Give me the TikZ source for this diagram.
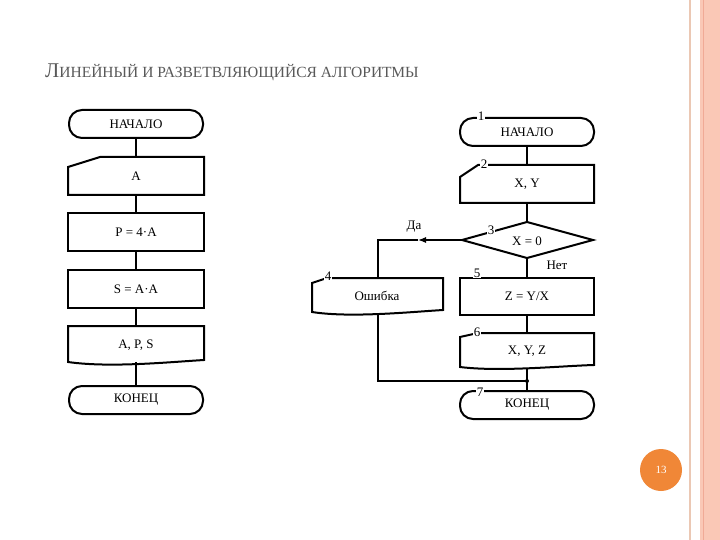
\documentclass[tikz,border=0pt]{standalone}
\usepackage{fontspec}
\setmainfont{Liberation Serif}
\usetikzlibrary{arrows.meta}
\begin{document}
\begin{tikzpicture}[x=1pt,y=-1pt,
  every node/.style={font=\fontsize{13}{15}\selectfont},
  blk/.style={minimum width=136pt,minimum height=38pt,inner sep=0pt},
  proc/.style={blk,draw,line width=2pt},
  term/.style={draw,line width=2pt,rounded corners=13pt,minimum width=134pt,minimum height=28pt,inner sep=0pt},
  num/.style={fill=white,inner sep=1pt,font=\fontsize{13}{15}\selectfont},
  sh/.style={line width=2pt},
  ln/.style={line width=1.2pt}]
\useasboundingbox (0,0) rectangle (720,540);
% right stripes
\fill[white] (0,0) rectangle (720,540);
\draw[color={rgb,255:red,235;green,200;blue,180},line width=1.2pt] (690,0)--(690,540);
\fill[color={rgb,255:red,250;green,200;blue,182}] (700,0) rectangle (720,540);
\draw[color={rgb,255:red,240;green,170;blue,150},line width=0.8pt] (703,0)--(703,540);
% title
\node[anchor=west,text=black!65,inner sep=0pt] (title) at (45,72)
  {\fontsize{21}{24}\selectfont Л\fontsize{15.5}{18}\selectfont ИНЕЙНЫЙ И РАЗВЕТВЛЯЮЩИЙСЯ АЛГОРИТМЫ};
% page number
\node[circle,fill={rgb,255:red,240;green,135;blue,55},minimum size=42pt,text=white,inner sep=0pt,font=\fontsize{11}{13}\selectfont] (pg) at (661,470) {13};

% ---------- left flowchart ----------
\node[term] (l1) at (136,124) {НАЧАЛО};
\node[blk] (l2) at (136,176) {A};
\draw[sh] (68,195)--(204,195)--(204,157)--(100,157)--(68,167)--cycle;
\node[proc] (l3) at (136,232) {P = 4·A};
\node[proc] (l4) at (136,289) {S = A·A};
\node[blk] (l5) at (136,345) {A, P, S};
\draw[sh] (68,326)--(204,326)--(204,360)
  .. controls (170,362) and (110,368) .. (68,362)--cycle;
\node[term] (l6) at (136,400) {КОНЕЦ};
\draw[ln] (l1)--(l2.north);
\draw[ln] (l2)--(l3);
\draw[ln] (l3)--(l4);
\draw[ln] (l4)--(l5.north);
\draw[ln] (136,362)--(l6);

% ---------- right flowchart ----------
\node[term] (r1) at (527,132) {НАЧАЛО};
\node[blk] (r2) at (527,184) {X, Y};
\draw[sh] (460,203)--(594,203)--(594,165)--(478,165)--(460,177)--cycle;
\draw[sh] (462,240)--(527,222)--(593,240)--(527,258)--cycle;
\node (r3) at (527,241) {X = 0};
\coordinate (r3w) at (462,240);
\coordinate (r3s) at (527,258);
\node[blk] (r5) at (527,296) {Z = Y/X};
\draw[sh] (460,278) rectangle (594,315);
\node[blk] (r4) at (377,296) {Ошибка};
\draw[sh] (312,283)--(327,278)--(443,278)--(443,310)
  .. controls (410,312) and (350,318) .. (312,312)--cycle;
\node[blk] (r6) at (527,351) {X, Y, Z};
\draw[sh] (460,337)--(478,333)--(594,333)--(594,365)
  .. controls (560,366) and (500,372) .. (460,367)--cycle;
\node[term] (r7) at (527,405) {КОНЕЦ};
\coordinate (j) at (527,381);
\coordinate (dl) at (378,240);
\coordinate (ab) at (418,240);
\draw[ln] (r1)--(r2.north);
\draw[ln] (r2)--(527,222);
\draw[ln] (r3s)--(r5);
\draw[ln] (r5)--(527,333);
\draw[ln] (527,368)--(j)--(r7);
\draw[ln,-{Latex[length=8pt,width=6pt]}] (r3w)--(ab);
\draw[ln] (ab)--(dl)--(378,278);
\draw[ln] (378,314)--(378,381)--(j);
\fill (j) circle (2pt);
\node (da) at (414,227) {Да};
\node (net) at (557,265) {Нет};
\node[num] (n1) at (481,116) {1};
\node[num] (n2) at (484,164) {2};
\node[num] (n3) at (491,230) {3};
\node[num] (n4) at (328,276) {4};
\node[num] (n5) at (477,273) {5};
\node[num] (n6) at (477,332) {6};
\node[num] (n7) at (480,392) {7};
\end{tikzpicture}
\end{document}
